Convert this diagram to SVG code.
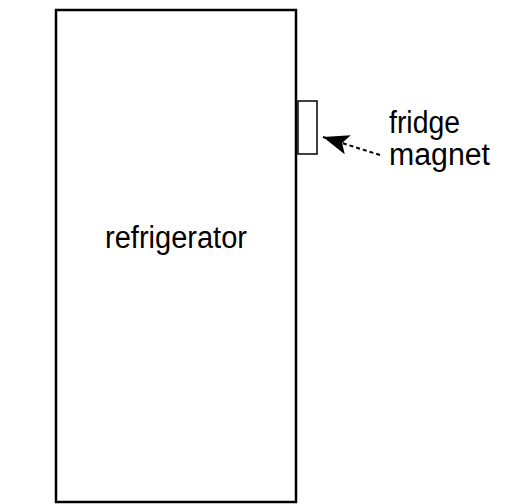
<svg xmlns="http://www.w3.org/2000/svg" width="517" height="504" viewBox="0 0 517 504">
<style>
.box{fill:#fff;stroke:#000}
.lbl{font-family:"Liberation Sans",Arial,sans-serif;font-size:31px;fill:#000}
.conn{stroke:#000;stroke-width:2;stroke-dasharray:4 3;fill:none}
</style>
<defs>
<marker id="ah" markerUnits="userSpaceOnUse" markerWidth="28" markerHeight="22" refX="26" refY="10" orient="auto">
<path d="M0,0 L26,10 L0,20 L6,10 Z" fill="#000"/>
</marker>
</defs>
<rect width="517" height="504" fill="#fff"/>
<g id="refrigerator">
<rect class="box" x="56" y="10" width="240" height="492" stroke-width="2.5"/>
<text class="lbl" x="105" y="248" textLength="142" lengthAdjust="spacingAndGlyphs">refrigerator</text>
</g>
<g id="magnet">
<rect class="box" x="298" y="101" width="19" height="53" stroke-width="1.5"/>
</g>
<g id="label">
<text class="lbl" x="389" y="133" textLength="71" lengthAdjust="spacingAndGlyphs">fridge</text>
<text class="lbl" x="389" y="165" textLength="101" lengthAdjust="spacingAndGlyphs">magnet</text>
</g>
<g id="connectors">
<line class="conn" x1="380" y1="155" x2="323" y2="137" marker-end="url(#ah)"/>
</g>
</svg>
